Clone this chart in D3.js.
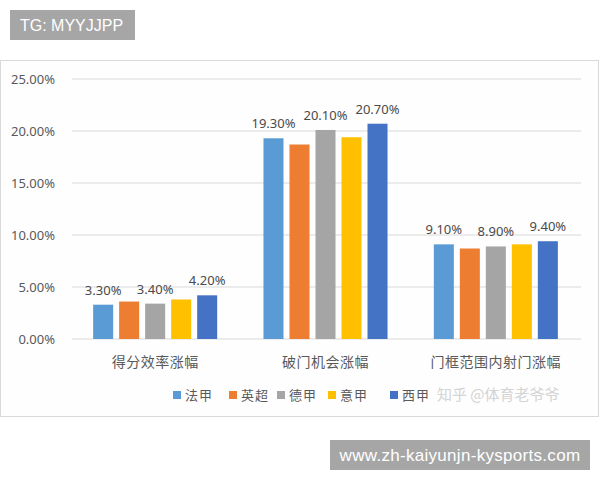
<!DOCTYPE html>
<html>
<head>
<meta charset="utf-8">
<script src="https://cdn.jsdelivr.net/npm/d3@7"></script>
<style>
  body { margin: 0; background: #ffffff; }
  text { font-family: "Noto Sans", "Noto Sans CJK SC", sans-serif; }
</style>
</head>
<body>
<div id="chart"></div>
<script>
// chart data
var categories = ["得分效率涨幅", "破门机会涨幅", "门框范围内射门涨幅"];
var leagues = ["法甲", "英超", "德甲", "意甲", "西甲"];
var fajia = [3.3, 19.3, 9.1];
var yingchao = [3.6, 18.7, 8.7];
var dejia = [3.4, 20.1, 8.9];
var yijia = [3.8, 19.4, 9.1];
var xijia = [4.2, 20.7, 9.4];
// only these series carry a value label in the original
var labeledLeagues = ["法甲", "德甲", "西甲"];
var yTicks = [0, 5, 10, 15, 20, 25];

var colors = ["#5b9bd5", "#ed7d31", "#a5a5a5", "#ffc000", "#4472c4"];
var seriesValues = [fajia, yingchao, dejia, yijia, xijia];

var svgWidth = 600;
var svgHeight = 480;

var svg = d3.select("#chart")
  .append("svg")
  .attr("width", svgWidth)
  .attr("height", svgHeight);

// top tag box
svg.append("rect")
  .attr("x", 10).attr("y", 10)
  .attr("width", 125).attr("height", 30)
  .attr("fill", "#a6a6a6");
svg.append("text")
  .attr("x", 20).attr("y", 31)
  .attr("fill", "#ffffff")
  .style("font-family", "'Liberation Sans', Arial, sans-serif")
  .style("font-size", "16px")
  .text("TG: MYYJJPP");

// chart frame
svg.append("rect")
  .attr("x", 0.5).attr("y", 60.5)
  .attr("width", 598).attr("height", 356)
  .attr("fill", "#fefefe")
  .attr("stroke", "#d9d9d9");

// scales
var x0 = d3.scaleBand()
  .domain(categories)
  .range([70, 581]);

var x1 = d3.scaleBand()
  .domain(leagues)
  .range([0, x0.bandwidth()])
  .paddingInner(0.23)
  .paddingOuter(0.89);

var y = d3.scaleLinear()
  .domain([0, 25])
  .range([339, 79]);

var color = d3.scaleOrdinal()
  .domain(leagues)
  .range(colors);

// gridlines + y labels
var grid = svg.append("g");
grid.selectAll("line")
  .data(yTicks)
  .enter()
  .append("line")
  .attr("x1", 72)
  .attr("x2", 581)
  .attr("y1", d => y(d))
  .attr("y2", d => y(d))
  .attr("stroke", "#d9d9d9")
  .attr("stroke-width", 1);

grid.selectAll("text")
  .data(yTicks)
  .enter()
  .append("text")
  .attr("x", 55)
  .attr("y", d => y(d))
  .attr("dy", "0.35em")
  .attr("text-anchor", "end")
  .attr("fill", "#595959")
  .style("font-size", "13px")
  .text(d => d3.format(".2f")(d) + "%");

// bars
var rows = [];
categories.forEach(function(cat, i) {
  leagues.forEach(function(lg, j) {
    rows.push({cat: cat, league: lg, value: seriesValues[j][i]});
  });
});

var groups = svg.append("g")
  .selectAll("g")
  .data(categories)
  .enter()
  .append("g")
  .attr("transform", d => `translate(${x0(d)},0)`);

groups.selectAll("rect")
  .data(c => rows.filter(r => r.cat === c))
  .enter()
  .append("rect")
  .attr("x", d => x1(d.league))
  .attr("width", x1.bandwidth())
  .attr("y", d => y(d.value))
  .attr("height", d => y(0) - y(d.value))
  .attr("fill", d => color(d.league));

groups.selectAll("text.val")
  .data(c => rows.filter(r => r.cat === c && labeledLeagues.indexOf(r.league) >= 0))
  .enter()
  .append("text")
  .attr("class", "val")
  .attr("x", d => x1(d.league) + x1.bandwidth() / 2)
  .attr("y", d => y(d.value) - 10)
  .attr("text-anchor", "middle")
  .attr("fill", "#4a4a4a")
  .style("font-size", "13px")
  .text(d => d3.format(".2f")(d.value) + "%");

// category axis labels
svg.append("g")
  .selectAll("text")
  .data(categories)
  .enter()
  .append("text")
  .attr("x", d => x0(d) + x0.bandwidth() / 2)
  .attr("y", 367)
  .attr("text-anchor", "middle")
  .attr("fill", "#595959")
  .style("font-family", "'Noto Sans CJK SC', sans-serif")
  .style("font-size", "14px")
  .style("letter-spacing", "0.5px")
  .text(d => d);

// legend
var legendX = [173, 229, 277, 328, 390];
var legend = svg.append("g")
  .selectAll("g")
  .data(leagues)
  .enter()
  .append("g")
  .attr("transform", (d, i) => `translate(${legendX[i]},391)`);

legend.append("rect")
  .attr("width", 8)
  .attr("height", 8)
  .attr("fill", d => color(d));

legend.append("text")
  .attr("x", 12)
  .attr("y", 4)
  .attr("dy", "0.35em")
  .attr("fill", "#595959")
  .style("font-family", "'Noto Sans CJK SC', sans-serif")
  .style("font-size", "13px")
  .style("letter-spacing", "1px")
  .text(d => d);

// faded source watermark
svg.append("text")
  .attr("x", 437)
  .attr("y", 395)
  .attr("dy", "0.35em")
  .attr("fill", "#d4d4d4")
  .style("font-family", "'Noto Sans CJK SC', sans-serif")
  .style("font-size", "15px")
  .text("知乎 @体育老爷爷");

// bottom url box
svg.append("rect")
  .attr("x", 330).attr("y", 440)
  .attr("width", 260).attr("height", 30)
  .attr("fill", "#a6a6a6");
svg.append("text")
  .attr("x", 460).attr("y", 461)
  .attr("text-anchor", "middle")
  .attr("fill", "#ffffff")
  .style("font-family", "'Liberation Sans', Arial, sans-serif")
  .style("font-size", "17px")
  .style("letter-spacing", "0.3px")
  .text("www.zh-kaiyunjn-kysports.com");
</script>
</body>
</html>
